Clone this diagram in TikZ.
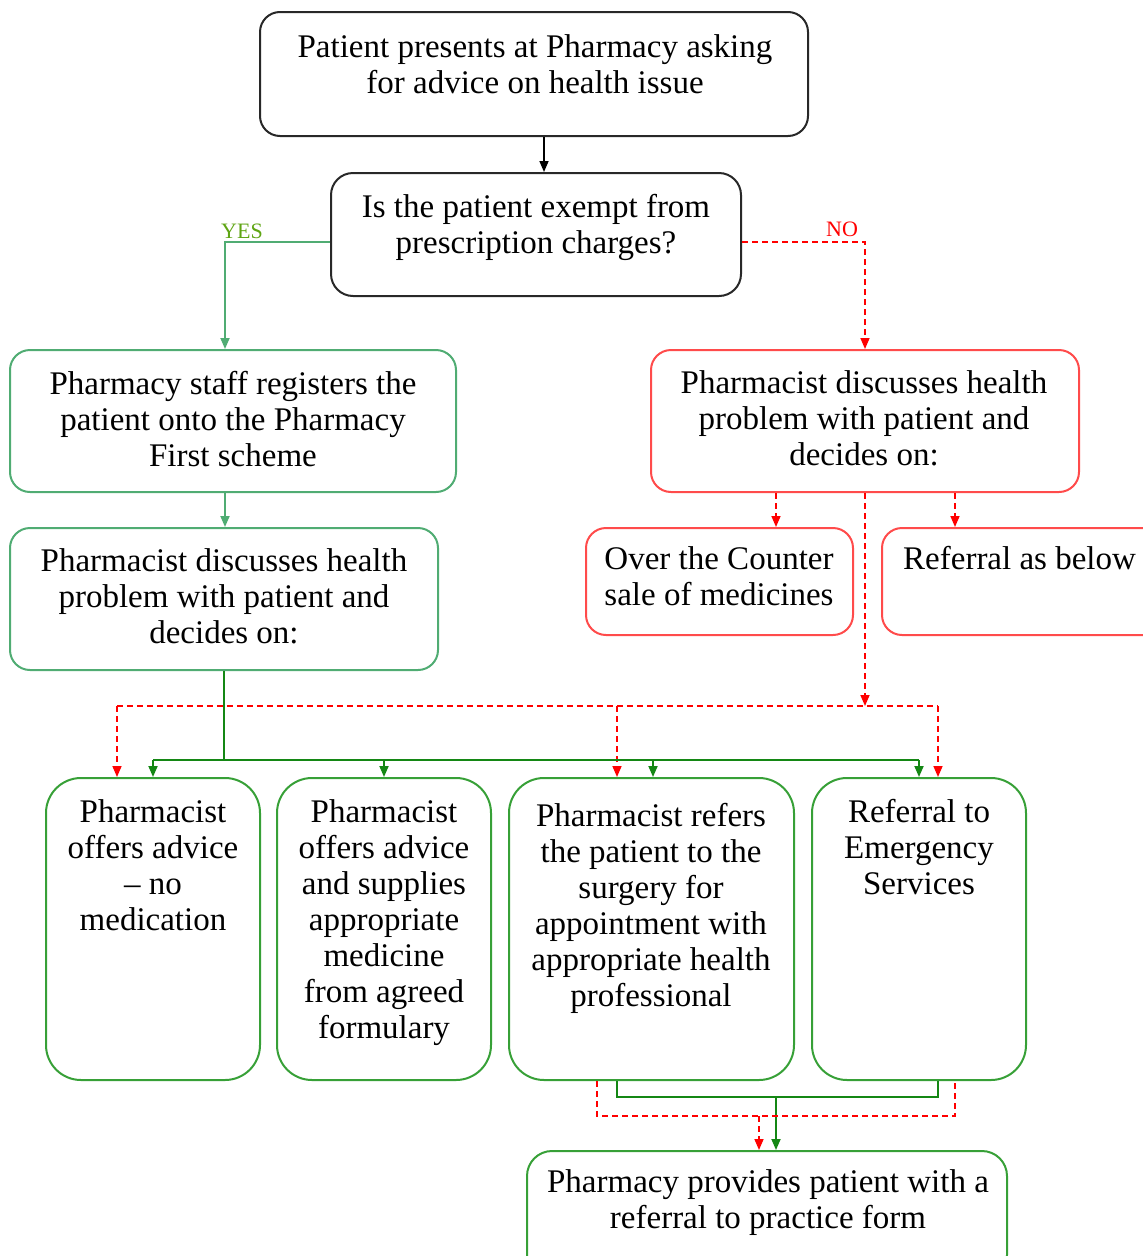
\documentclass[tikz,border=0pt]{standalone}
\usepackage{fontspec}
\setmainfont{Liberation Serif}
\usetikzlibrary{arrows.meta}
\definecolor{boxblack}{RGB}{40,40,40}
\definecolor{greenA}{RGB}{80,172,115}
\definecolor{greenB}{RGB}{55,160,55}
\definecolor{greenC}{RGB}{20,135,20}
\definecolor{redbox}{RGB}{255,75,75}
\definecolor{redline}{RGB}{255,0,0}
\definecolor{yesc}{RGB}{95,165,20}
\begin{document}
\begin{tikzpicture}[x=1pt,y=-1pt,
  box/.style={rectangle, line width=2pt, inner sep=0pt},
  blackbox/.style={box, draw=boxblack, rounded corners=20pt},
  greenbox/.style={box, draw=greenA, rounded corners=20pt},
  redbox/.style={box, draw=redbox, rounded corners=20pt},
  bigbox/.style={box, draw=greenB, rounded corners=35pt},
  finbox/.style={box, draw=greenB, rounded corners=25pt},
  txt/.style={align=center, inner sep=0pt, anchor=north, font=\fontsize{33}{36}\selectfont},
  tip/.style={-{Triangle[length=11pt,width=9pt]}},
  blkline/.style={line width=1.6pt, draw=black},
  gline/.style={line width=1.8pt, draw=greenA},
  gline2/.style={line width=1.8pt, draw=greenC},
  rline/.style={line width=1.6pt, draw=redline, dash pattern=on 6pt off 4pt},
  lbl/.style={inner sep=0pt, font=\fontsize{22}{24}\selectfont}
]
\useasboundingbox (0,0) rectangle (1143,1256);

% boxes
\node[blackbox, minimum width=548pt, minimum height=124pt] (top) at (534,74) {};
\node[blackbox, minimum width=410pt, minimum height=123pt, rounded corners=22pt] (dec) at (536,234.5) {};
\node[greenbox, minimum width=446pt, minimum height=142pt] (A) at (233,421) {};
\node[greenbox, minimum width=428pt, minimum height=142pt] (B) at (224,599) {};
\node[redbox, minimum width=428pt, minimum height=142pt] (R) at (865,421) {};
\node[redbox, minimum width=267pt, minimum height=107pt] (otc) at (719.5,581.5) {};
\node[redbox, minimum width=283pt, minimum height=107pt] (ref) at (1023.5,581.5) {};
\node[bigbox, minimum width=214pt, minimum height=302pt] (g1) at (153,929) {};
\node[bigbox, minimum width=214pt, minimum height=302pt] (g2) at (384,929) {};
\node[bigbox, minimum width=285pt, minimum height=302pt] (g3) at (651.5,929) {};
\node[bigbox, minimum width=214pt, minimum height=302pt] (g4) at (919,929) {};
\node[finbox, minimum width=480pt, minimum height=129pt] (fin) at (767,1215.5) {};

% texts
\node[txt] (topt) at (535,32) {\strut Patient presents at Pharmacy asking\\for advice on health issue};
\node[txt] (dect) at (536,192) {\strut Is the patient exempt from\\prescription charges?};
\node[txt] (At) at (233,369) {\strut Pharmacy staff registers the\\patient onto the Pharmacy\\First scheme};
\node[txt] (Bt) at (224,546) {\strut Pharmacist discusses health\\problem with patient and\\decides on:};
\node[txt] (Rt) at (864,368) {\strut Pharmacist discusses health\\problem with patient and\\decides on:};
\node[txt] (otct) at (719,544) {\strut Over the Counter\\sale of medicines};
\node[txt, anchor=north west] (reft) at (903,544) {\strut Referral as below};
\node[txt] (g1t) at (153,797) {\strut Pharmacist\\offers advice\\– no\\medication};
\node[txt] (g2t) at (384,797) {\strut Pharmacist\\offers advice\\and supplies\\appropriate\\medicine\\from agreed\\formulary};
\node[txt] (g3t) at (651,801) {\strut Pharmacist refers\\the patient to the\\surgery for\\appointment with\\appropriate health\\professional};
\node[txt] (g4t) at (919,797) {\strut Referral to\\Emergency\\Services};
\node[txt] (fint) at (768,1167) {\strut Pharmacy provides patient with a\\referral to practice form};

% labels
\node[lbl, text=yesc] (yeslbl) at (242,231) {YES};
\node[lbl, text=redline] (nolbl) at (842,229) {NO};

% coordinates
\coordinate (yes) at (225,242);
\coordinate (no) at (865,242);
\coordinate (ab) at (225,0);
\coordinate (ro) at (776,0);
\coordinate (rr) at (955,0);
\coordinate (rbus) at (0,706);
\coordinate (rb1) at (117,706);
\coordinate (rb3) at (617,706);
\coordinate (rb4) at (938,706);
\coordinate (gbus) at (0,760);
\coordinate (gb1) at (153,760);
\coordinate (gb2) at (384,760);
\coordinate (gb3) at (653,760);
\coordinate (gb4) at (919,760);
\coordinate (bg) at (0,1097);
\coordinate (bgl) at (617,1097);
\coordinate (bgr) at (938,1097);
\coordinate (bgm) at (776,1097);
\coordinate (br) at (0,1116);
\coordinate (brl) at (597,1116);
\coordinate (brr) at (955,1116);
\coordinate (brm) at (759,1116);

% connectors
\draw[blkline, tip] ([xshift=10pt]top.south) -- ([xshift=10pt]top.south |- dec.north);
\draw[gline, tip] (dec.west |- yes) -- (yes) -- (yes |- A.north);
\draw[rline, tip] (dec.east |- no) -- (no) -- (R.north);
\draw[gline, tip] (ab |- A.south) -- (ab |- B.north);
\draw[rline, tip] (ro |- R.south) -- (ro |- otc.north);
\draw[rline, tip] (rr |- R.south) -- (rr |- ref.north);
\draw[rline, tip] (R.south) -- (R.south |- rbus);
\draw[rline] (rb1) -- (rb4);
\draw[rline, tip] (rb1) -- (rb1 |- g1.north);
\draw[rline, tip] (rb3) -- (rb3 |- g3.north);
\draw[rline, tip] (rb4) -- (rb4 |- g4.north);
\draw[gline2] (B.south) -- (B.south |- gbus);
\draw[gline2] (gb1) -- (gb4);
\draw[gline2, tip] (gb1) -- (gb1 |- g1.north);
\draw[gline2, tip] (gb2) -- (gb2 |- g2.north);
\draw[gline2, tip] (gb3) -- (gb3 |- g3.north);
\draw[gline2, tip] (gb4) -- (gb4 |- g4.north);
\draw[gline2] (bgl |- g3.south) -- (bgl) -- (bgr) -- (bgr |- g4.south);
\draw[gline2, tip] (bgm) -- (bgm |- fin.north);
\draw[rline] (brl |- g3.south) -- (brl) -- (brr) -- (brr |- g4.south);
\draw[rline, tip] (brm) -- (brm |- fin.north);
\end{tikzpicture}
\end{document}
